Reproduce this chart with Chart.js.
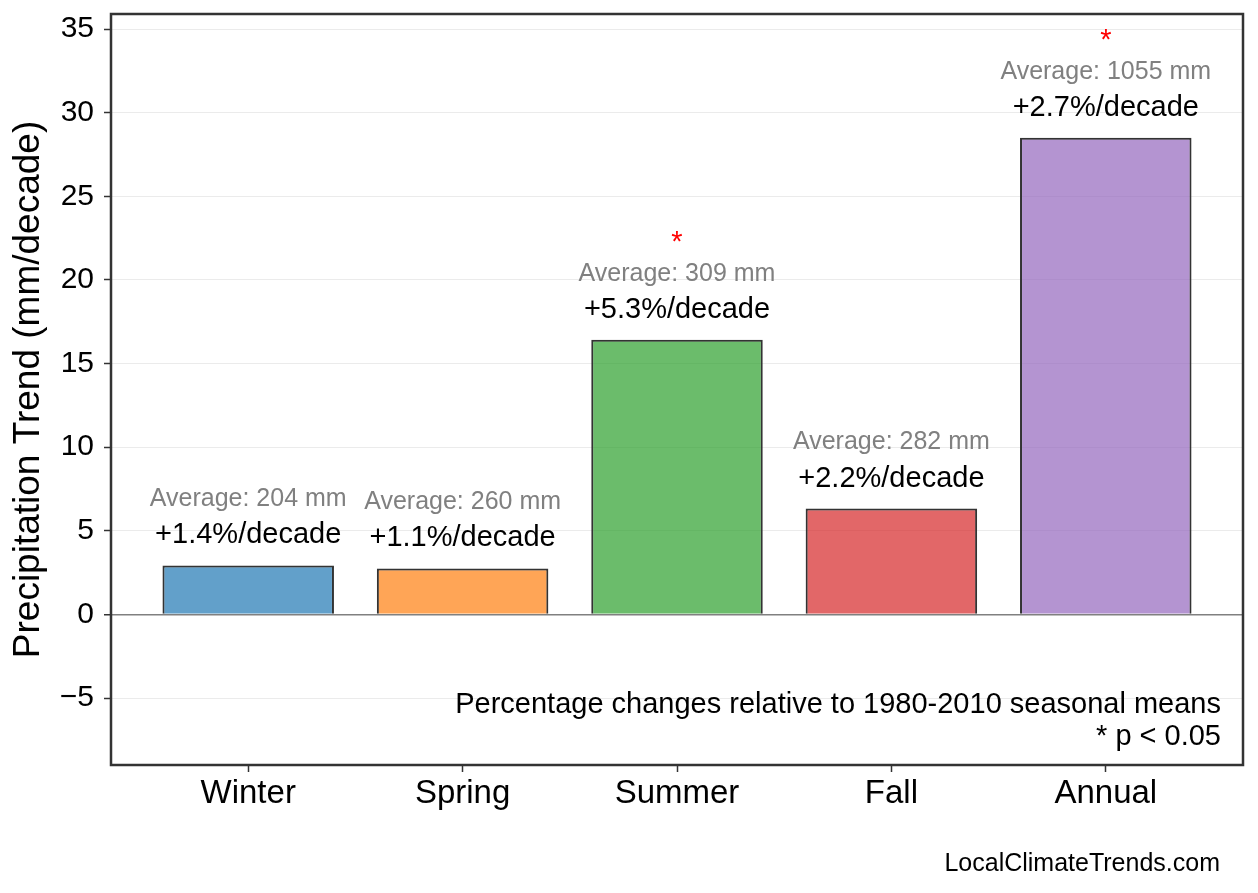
<!DOCTYPE html>
<html><head><meta charset="utf-8">
<script src="https://cdn.jsdelivr.net/npm/chart.js@4.4.0/dist/chart.umd.min.js"></script>
<style>html,body{margin:0;padding:0;background:#fff;overflow:hidden;}</style>
</head><body>
<canvas id="c" width="1258" height="893"></canvas>
<script>
const categories = ['Winter', 'Spring', 'Summer', 'Fall', 'Annual'];
const trendValues = [2.93, 2.75, 16.42, 6.33, 28.5];
const averageMm = [204, 260, 309, 282, 1055];
const percentLabels = ['+1.4%/decade', '+1.1%/decade', '+5.3%/decade', '+2.2%/decade', '+2.7%/decade'];
const significant = [false, false, true, false, true];
const barColors = ['rgba(31,119,180,0.7)', 'rgba(255,127,14,0.7)', 'rgba(44,160,44,0.7)', 'rgba(214,39,40,0.7)', 'rgba(148,103,189,0.7)'];
const yTicks = [-5, 0, 5, 10, 15, 20, 25, 30, 35];
const footnoteLines = ['Percentage changes relative to 1980-2010 seasonal means', '* p < 0.05'];
const sourceText = 'LocalClimateTrends.com';

const FONT = '"Liberation Sans", Arial, Helvetica, sans-serif';

const annotate = {
  id: 'annotate',
  afterDraw(chart) {
    const ctx = chart.ctx;
    const ca = chart.chartArea;
    const meta = chart.getDatasetMeta(0);
    ctx.save();
    ctx.textAlign = 'center';
    meta.data.forEach((el, i) => {
      const x = el.x, top = el.y;
      ctx.textBaseline = 'middle';
      ctx.fillStyle = '#000';
      ctx.font = '29px ' + FONT;
      ctx.fillText(percentLabels[i], x, top - 30);
      ctx.fillStyle = '#808080';
      ctx.font = '25px ' + FONT;
      ctx.fillText('Average: ' + averageMm[i] + ' mm', x, top - 66);
      if (significant[i]) {
        ctx.textBaseline = 'alphabetic';
        ctx.fillStyle = '#ff0000';
        ctx.font = '29px ' + FONT;
        ctx.fillText('*', x, top - 89);
      }
    });
    // footnote
    ctx.textAlign = 'right';
    ctx.textBaseline = 'middle';
    ctx.fillStyle = '#000';
    ctx.font = '29px ' + FONT;
    ctx.fillText(footnoteLines[0], ca.right - 22, 705);
    ctx.fillText(footnoteLines[1], ca.right - 22, 737);
    // frame
    ctx.strokeStyle = '#333';
    ctx.lineWidth = 2.5;
    ctx.strokeRect(ca.left, ca.top, ca.right - ca.left, ca.bottom - ca.top);
    // source
    ctx.font = '25px ' + FONT;
    ctx.fillText(sourceText, 1220, 864);
    ctx.restore();
  }
};

new Chart(document.getElementById('c'), {
  type: 'bar',
  data: {
    datasets: [{
      data: trendValues.map((v, i) => ({ x: i, y: v })),
      backgroundColor: barColors,
      borderColor: '#333333',
      borderWidth: 2,
      barPercentage: 0.8,
      categoryPercentage: 1.0
    }]
  },
  options: {
    responsive: false,
    animation: false,
    devicePixelRatio: 1,
    layout: { padding: { left: 0, top: 14, right: 15, bottom: 0 } },
    plugins: { legend: { display: false }, tooltip: { enabled: false } },
    scales: {
      x: {
        type: 'linear',
        min: -0.64,
        max: 4.64,
        offset: false,
        afterBuildTicks: (s) => { s.ticks = categories.map((c, i) => ({ value: i })); },
        afterFit: (s) => { s.height = 128; s.paddingLeft = 0; s.paddingRight = 0; },
        border: { display: false },
        grid: { display: true, offset: false, drawOnChartArea: false, drawTicks: true, tickLength: 7, tickColor: '#333', tickWidth: 1.5 },
        ticks: {
          callback: (v) => categories[v],
          font: { family: FONT, size: 33 },
          color: '#000',
          padding: 2,
          maxRotation: 0,
          autoSkip: false
        }
      },
      y: {
        z: 1,
        min: -9,
        max: 35.9,
        afterBuildTicks: (s) => { s.ticks = yTicks.map(v => ({ value: v })); },
        afterFit: (s) => { s.width = 111; s.paddingTop = 0; s.paddingBottom = 0; },
        border: { display: false },
        grid: {
          color: (c) => c.tick && c.tick.value === 0 ? '#808080' : '#ebebeb',
          lineWidth: (c) => c.tick && c.tick.value === 0 ? 1.5 : 1,
          drawTicks: true, tickLength: 7, tickColor: '#333', tickWidth: 1.5
        },
        ticks: {
          callback: (v) => v < 0 ? '\u2212' + Math.abs(v) : String(v),
          font: { family: FONT, size: 30 },
          color: '#000',
          padding: 10
        },
        title: {
          display: true,
          text: 'Precipitation Trend (mm/decade)',
          font: { family: FONT, size: 37 },
          color: '#000',
          padding: { top: 7, bottom: 0 }
        }
      }
    }
  },
  plugins: [annotate]
});
</script>
</body></html>
